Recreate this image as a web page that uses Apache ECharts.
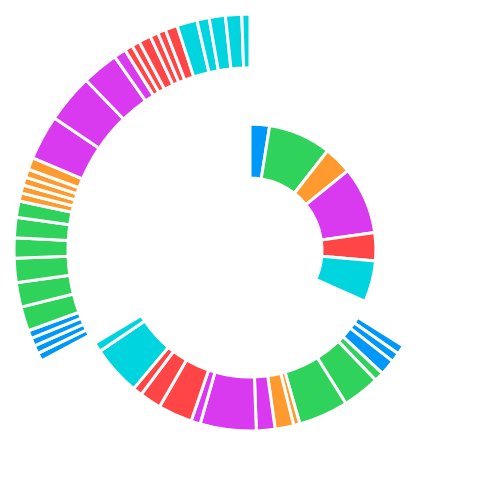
<!DOCTYPE html>
<html><head><meta charset="utf-8">
<script src="https://cdn.jsdelivr.net/npm/echarts@6/dist/echarts.min.js"></script>
<style>html,body{margin:0;background:#fff}#c{width:500px;height:500px}</style>
</head><body><div id="c"></div>
<script>
const colors = ['#0098f8','#2fd25b','#ff9a2e','#d93af0','#ff4545','#00d4de'];
// ring values (degrees of arc) and group index per segment
const innerValues = [9, 29, 13, 31, 13, 19];
const innerGroups = [0, 1, 2, 3, 4, 5];
const middleValues = [3, 3, 5, 3, 12, 16, 2, 6, 6, 18, 3, 11, 7, 3, 16, 3];
const middleGroups = [0, 0, 0, 1, 1, 1, 2, 2, 3, 3, 3, 4, 4, 4, 5, 5];
const outerValues = [2, 2, 2, 2, 6, 6, 6, 5, 5, 4, 2, 2, 2, 2, 3, 11, 12, 9, 3, 2, 2, 3, 2, 2, 3, 5, 3, 4, 4, 2];
const outerGroups = [0, 0, 0, 0, 1, 1, 1, 1, 1, 1, 2, 2, 2, 2, 2, 3, 3, 3, 3, 4, 4, 4, 4, 4, 4, 5, 5, 5, 5, 5];
function mk(vals, groups){ return vals.map((v,i)=>({value:v,itemStyle:{color:colors[groups[i]]}})); }
function sum(a){return a.reduce((s,x)=>s+x,0);}
function ring(vals, groups, r, startDeg){
  const start = 90 - startDeg, span = sum(vals);
  return {type:'pie', center:['50%','50%'], radius:r, startAngle:start, endAngle:start-span,
    clockwise:true, label:{show:false}, labelLine:{show:false}, silent:true, animation:false,
    itemStyle:{borderColor:'#fff', borderWidth:3}, data:mk(vals,groups)};
}
const chart = echarts.init(document.getElementById('c'));
chart.setOption({series:[
  ring(innerValues, innerGroups, [72,126], 0),
  ring(middleValues, middleGroups, [127,181], 122),
  ring(outerValues, outerGroups, [182,236], 242)
]});
</script></body></html>
